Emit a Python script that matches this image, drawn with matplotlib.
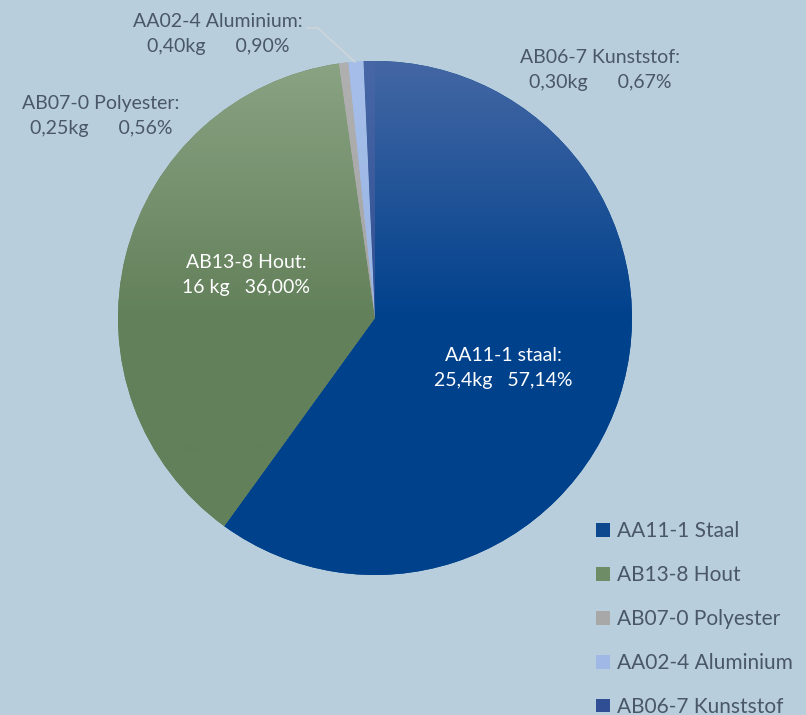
import numpy as np
import matplotlib.pyplot as plt
from matplotlib.colors import LinearSegmentedColormap
from matplotlib.lines import Line2D
from matplotlib.patches import Patch

plt.rcParams['font.family'] = ['Lato', 'DejaVu Sans']

names = ['AA11-1 Staal', 'AB13-8 Hout', 'AB07-0 Polyester',
         'AA02-4 Aluminium', 'AB06-7 Kunststof']
kg = [25.4, 16, 0.25, 0.40, 0.30]
label_names = ['AA11-1 staal:', 'AB13-8 Hout:', 'AB07-0 Polyester:',
               'AA02-4 Aluminium:', 'AB06-7 Kunststof:']
kg_text = ['25,4kg', '16 kg', '0,25kg', '0,40kg', '0,30kg']
pct_text = ['57,14%', '36,00%', '0,56%', '0,90%', '0,67%']

# (top colour, bottom colour) of the gradient of each slice
top_cols = ['#4467a4', '#8aa383', '#b0b0b0', '#a6bfea', '#4767a6']
bot_cols = ['#00418c', '#62805a', '#a5a5a5', '#9ab5e4', '#2f4f93']
legend_cols = ['#0d478e', '#6e8c66', '#a8a8a8', '#9fb8e6', '#2f4e94']

bg = '#b8cedc'
txt_dark = '#4a5766'

fig = plt.figure(figsize=(8.06, 7.15), dpi=100, facecolor=bg)
cx, cy, r = 375, 318, 257
ax = fig.add_axes([(cx - r) / 806, (715 - cy - r) / 715, 2 * r / 806, 2 * r / 715])
ax.set_facecolor(bg)
ax.axis('off')

wedges, _ = ax.pie(kg, startangle=90, counterclock=False, radius=1,
                   colors=bot_cols)
ax.set_xlim(-1, 1)
ax.set_ylim(-1, 1)
ax.set_aspect('equal')

# vertical gradient, lighter at the top, solid from the middle down
yy = np.linspace(0, 1, 256).reshape(-1, 1)
for w, c1, c2 in zip(wedges, top_cols, bot_cols):
    cmap = LinearSegmentedColormap.from_list('g', [c2, c2, c1])
    im = ax.imshow(yy, cmap=cmap, extent=(-1, 1, -1, 1), origin='lower',
                   aspect='auto', zorder=2)
    im.set_clip_path(w)
    w.set_zorder(1)


def px(x, y):
    return (x - cx) / r, (cy - y) / r


label_pos = [(503, 368), (246, 275), (101, 116), (218, 34), (600, 70)]
label_col = ['white', 'white', txt_dark, txt_dark, txt_dark]
gaps = ['   ', '   ', '      ', '      ', '      ']
for i in range(len(kg)):
    x, y = px(*label_pos[i])
    ax.text(x, y, label_names[i] + '\n' + kg_text[i] + gaps[i] + pct_text[i],
            ha='center', va='center', fontsize=14, color=label_col[i],
            linespacing=1.6, clip_on=False, zorder=5)

# leader line for the aluminium label
lx, ly = zip(px(307, 28), px(318, 28), px(355, 62))
ax.add_line(Line2D(lx, ly, color='#d3d6d9', lw=1, clip_on=False, zorder=4))

handles = [Patch(facecolor=c, edgecolor='none') for c in legend_cols]
fig.legend(handles, names, loc='upper left', bbox_to_anchor=(596 / 806, 1 - 521 / 715),
           frameon=False, fontsize=15, labelcolor=txt_dark, handlelength=0.65,
           handleheight=0.65, handletextpad=0.35, labelspacing=1.15,
           borderaxespad=0, borderpad=0)

fig.savefig('out.png', dpi=100, facecolor=bg)
